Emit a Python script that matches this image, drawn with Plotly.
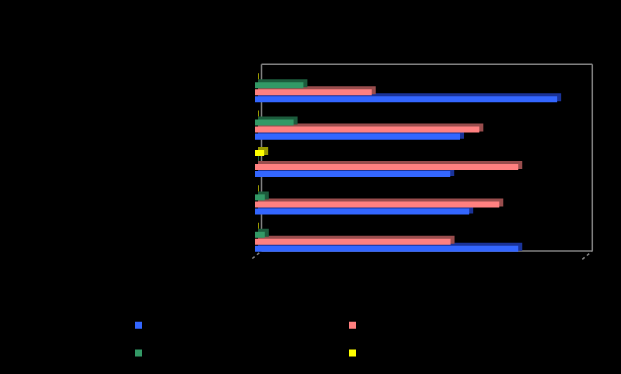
import plotly.graph_objects as go

# ---- data (bottom category first) ----
categories = ["Category 1", "Category 2", "Category 3", "Category 4", "Category 5"]
series_names = ["Series 1", "Series 2", "Series 3", "Series 4"]
blue_vals = [80.5, 65.5, 59.7, 62.7, 92.4]
pink_vals = [59.8, 74.7, 80.5, 68.6, 35.7]
green_vals = [3.0, 3.0, 0.0, 11.8, 14.8]
yellow_vals = [0.0, 0.0, 2.8, 0.0, 0.0]

face_colors = ["#3366FF", "#FF8080", "#339966", "#FFFF00"]
side_colors = ["#1A3399", "#994D4D", "#1D5C3D", "#999900"]
all_vals = [blue_vals, pink_vals, green_vals, yellow_vals]

W, H = 621, 374
L, R, T, B = 255, 36, 68, 117
PW = W - L - R   # 330
PH = H - T - B   # 189
DX, DY = 3, 2

fig = go.Figure()

# depth (side faces) on first subplot, drawn underneath
for vals, col in zip(all_vals, side_colors):
    fig.add_trace(go.Bar(
        y=categories, x=vals, orientation="h",
        marker=dict(color=col, line=dict(color=col, width=2)),
        xaxis="x", yaxis="y", showlegend=False, hoverinfo="skip",
    ))

# front faces on second subplot
for name, vals, col in zip(series_names, all_vals, face_colors):
    fig.add_trace(go.Bar(
        y=categories, x=vals, orientation="h", name=name,
        marker=dict(color=col, line=dict(width=0)),
        xaxis="x2", yaxis="y2", showlegend=False,
    ))

# legend entries
for name, col in zip(series_names, face_colors):
    fig.add_trace(go.Scatter(
        x=[None], y=[None], mode="markers", name=name,
        marker=dict(symbol="square", size=7, color=col),
        xaxis="x2", yaxis="y2", showlegend=True,
    ))

axis_common = dict(showgrid=False, zeroline=False, showticklabels=False,
                   showline=False, ticks="")
fig.update_layout(
    width=W, height=H,
    margin=dict(l=L, r=R, t=T, b=B, pad=0, autoexpand=False),
    paper_bgcolor="black", plot_bgcolor="rgba(0,0,0,0)",
    barmode="group", bargap=0.25, bargroupgap=0.14,
    xaxis=dict(domain=[DX / PW, 1], range=[0, 100], **axis_common),
    yaxis=dict(domain=[DY / PH, 1], range=[-0.5, 4.5], **axis_common),
    xaxis2=dict(domain=[0, (PW - DX) / PW], range=[0, 100], anchor="y2", **axis_common),
    yaxis2=dict(domain=[0, (PH - DY) / PH], range=[-0.5, 4.5], anchor="x2", **axis_common),
    showlegend=True,
    legend=dict(orientation="h",
                x=(118.5 - L) / PW, y=(257 - 306.5) / PH,
                xanchor="left", yanchor="top",
                entrywidth=169, entrywidthmode="pixels",
                font=dict(family="Liberation Sans", size=19, color="black"),
                bgcolor="rgba(0,0,0,0)"),
)

def px_x(p):
    return (p - L) / PW

def px_y(p):
    return (257 - p) / PH

gray = "#808080"
wall = [
    (261.5, 64.3, 592.3, 64.3),
    (592.3, 64.3, 592.3, 251),
    (261.5, 251, 592.3, 251),
    (261.5, 64.3, 261.5, 251),
]
for x0, y0, x1, y1 in wall:
    fig.add_shape(type="line", xref="paper", yref="paper", layer="below",
                  x0=px_x(x0), y0=px_y(y0), x1=px_x(x1), y1=px_y(y1),
                  line=dict(color=gray, width=1.5))
for x0, y0, x1, y1 in [(252.3, 258.5, 261.5, 251), (582.3, 259.3, 592.3, 251)]:
    fig.add_shape(type="line", xref="paper", yref="paper", layer="below",
                  x0=px_x(x0), y0=px_y(y0), x1=px_x(x1), y1=px_y(y1),
                  line=dict(color=gray, width=1.5, dash="dot"))

fig.write_html(
    "out.html",
    config={"displayModeBar": False},
    post_script="document.body.style.margin='0';document.body.style.background='black';",
)
